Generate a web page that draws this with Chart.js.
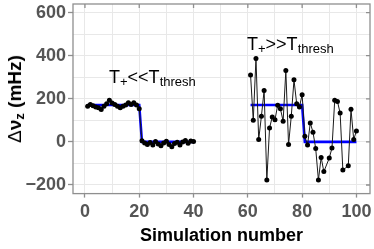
<!DOCTYPE html>
<html>
<head>
<meta charset="utf-8">
<script src="https://cdn.jsdelivr.net/npm/chart.js@4"></script>
<style>
  html, body { margin: 0; padding: 0; background: #fff; }
  #wrap { position: relative; width: 374px; height: 249px; font-family: "Liberation Sans", Arial, sans-serif; }
  canvas { position: absolute; left: 0; top: 0; }
  .note { position: absolute; font-size: 18px; line-height: 18px; color: #000; white-space: nowrap; }
  .note span { font-size: 13px; position: relative; top: 3px; }
  #ytitle { position: absolute; left: 15px; top: 98.5px; font-size: 19px; font-weight: bold; line-height: 20px;
            white-space: nowrap; transform: translate(-50%, -50%) rotate(-90deg); }
  #ytitle .d { font-weight: normal; }
  #ytitle sub { font-size: 13px; vertical-align: -3px; line-height: 0; }
</style>
</head>
<body>
<div id="wrap">
  <canvas id="chart" width="374" height="249"></canvas>
  <div class="note" style="left:109px; top:68px;">T<span>+</span>&lt;&lt;T<span>thresh</span></div>
  <div class="note" style="left:247px; top:35px;">T<span>+</span>&gt;&gt;T<span>thresh</span></div>
  <div id="ytitle"><span class="d">&Delta;</span>&nu;<sub>z</sub> (mHz)</div>
</div>
<script>
/* ---- data ---- */
// low-temperature runs (simulations 1-40)
var lowX = [1, 2, 3, 4, 5, 6, 7, 8, 9, 10, 11, 12, 13, 14, 15, 16, 17, 18, 19, 20,
            21, 22, 23, 24, 25, 26, 27, 28, 29, 30, 31, 32, 33, 34, 35, 36, 37, 38, 39, 40];
var lowY = [165, 174, 168, 162, 159, 150, 165, 177, 193, 180, 174, 166, 159, 165, 171, 182, 174, 182, 171, 154,
            5, -5, -12, -3, -15, 2, -10, -18, -5, 3, -12, -22, -8, -2, -14, 0, 6, -6, 4, 2];

// high-temperature runs (simulations 61-100, two runs missing)
var highX = [61, 62, 63, 64, 65, 66, 67, 68, 69, 70, 71, 72, 73, 74, 75, 76, 77, 78, 79, 80,
             81, 82, 83, 84, 85, 86, 87, 88, 90, 91, 92, 93, 94, 95, 97, 98, 99, 100];
var highY = [311, 100, 387, 11, 119, 239, -177, 65, 116, 103, 170, 154, 96, 331, -12, 119, 288, 177, 162, 219,
             26, -15, 88, 45, -31, -177, -72, -138, -75, -28, 193, 188, 134, -131, -111, 151, 11, 51];

// expected shift (blue step lines)
var fitLowX  = [1, 20, 21, 40];
var fitLowY  = [171, 171, 0, 0];
var fitHighX = [61, 80, 81, 100];
var fitHighY = [171, 171, 0, 0];

// axes
var xGridValues = [0, 10, 20, 30, 40, 50, 60, 70, 80, 90, 100];
var yGridValues = [-200, -100, 0, 100, 200, 300, 400, 500, 600];
var xMin = -4.4, xMax = 105;
var yMin = -240, yMax = 640;

/* ---- helpers ---- */
function pts(xs, ys) {
  return xs.map(function (x, i) { return { x: x, y: ys[i] }; });
}

var FRAME = '#8f8f8f';
var TICKTXT = '#555555';
var GRID = '#e8e8e8';
var FONT = '"Liberation Sans", Arial, sans-serif';

// box around the plot + inward ticks on top and right
var framePlugin = {
  id: 'frame',
  beforeDatasetsDraw: function (chart) {
    var a = chart.chartArea, c = chart.ctx;
    var xs = chart.scales.x, ys = chart.scales.y;
    c.save();
    c.strokeStyle = FRAME;
    c.lineWidth = 1.3;
    c.strokeRect(a.left, a.top, a.right - a.left, a.bottom - a.top);
    c.beginPath();
    xGridValues.forEach(function (v) {
      if (v % 20 !== 0) return;
      var px = xs.getPixelForValue(v);
      c.moveTo(px, a.top); c.lineTo(px, a.top + 4);
    });
    yGridValues.forEach(function (v) {
      if (v % 200 !== 0) return;
      var py = ys.getPixelForValue(v);
      c.moveTo(a.right, py); c.lineTo(a.right - 4, py);
    });
    c.stroke();
    c.restore();
  }
};

new Chart(document.getElementById('chart'), {
  type: 'line',
  data: {
    datasets: [
      {
        data: pts(lowX, lowY),
        borderColor: '#1a1a1a', borderWidth: 1,
        pointRadius: 2.5, pointBackgroundColor: '#000', pointBorderWidth: 0,
        order: 1
      },
      {
        data: pts(highX, highY),
        borderColor: '#1a1a1a', borderWidth: 1,
        pointRadius: 2.5, pointBackgroundColor: '#000', pointBorderWidth: 0,
        order: 1
      },
      {
        data: pts(fitLowX, fitLowY),
        borderColor: '#0000ff', borderWidth: 2.6, pointRadius: 0,
        order: 2
      },
      {
        data: pts(fitHighX, fitHighY),
        borderColor: '#0000ff', borderWidth: 2.6, pointRadius: 0,
        order: 2
      }
    ]
  },
  options: {
    responsive: false,
    animation: false,
    layout: { padding: { top: 3.3, right: 4, left: 0, bottom: 0 } },
    plugins: { legend: { display: false }, tooltip: { enabled: false } },
    elements: { line: { tension: 0 } },
    scales: {
      x: {
        type: 'linear',
        min: xMin, max: xMax,
        afterBuildTicks: function (s) { s.ticks = xGridValues.map(function (v) { return { value: v }; }); },
        afterFit: function (s) { s.height = 55.4; s.paddingLeft = 0; s.paddingRight = 0; },
        border: { display: false },
        grid: {
          color: GRID, lineWidth: 1, tickLength: 4,
          tickColor: function (ctx) { return ctx.tick && ctx.tick.value % 20 === 0 ? FRAME : 'rgba(0,0,0,0)'; },
          tickWidth: 1.3
        },
        ticks: {
          autoSkip: false, maxRotation: 0, padding: 4,
          color: TICKTXT, font: { family: FONT, size: 18, weight: 'bold' },
          callback: function (v) { return v % 20 === 0 ? String(v) : ''; }
        },
        title: {
          display: true, text: 'Simulation number', color: '#000',
          font: { family: FONT, size: 18, weight: 'bold' },
          padding: { top: 0, bottom: 2 }
        }
      },
      y: {
        min: yMin, max: yMax,
        afterBuildTicks: function (s) { s.ticks = yGridValues.map(function (v) { return { value: v }; }); },
        afterFit: function (s) { s.width = 73; s.paddingTop = 0; s.paddingBottom = 0; },
        border: { display: false },
        grid: {
          color: GRID, lineWidth: 1, tickLength: 5,
          tickColor: function (ctx) { return ctx.tick && ctx.tick.value % 200 === 0 ? FRAME : 'rgba(0,0,0,0)'; },
          tickWidth: 1.3
        },
        ticks: {
          autoSkip: false, padding: 2,
          color: TICKTXT, font: { family: FONT, size: 18, weight: 'bold' },
          callback: function (v) {
            if (v % 200 !== 0) return '';
            return v < 0 ? '\u2212' + Math.abs(v) : String(v);
          }
        }
      }
    }
  },
  plugins: [framePlugin]
});
</script>
</body>
</html>
